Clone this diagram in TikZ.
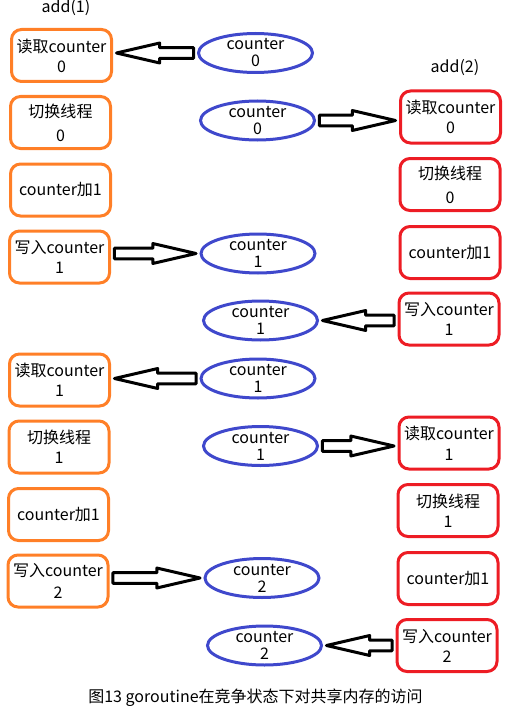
\documentclass[tikz,border=0pt]{standalone}
\usepackage{fontspec}
\setmainfont{Noto Sans CJK SC}
\usetikzlibrary{shapes.geometric,shapes.arrows,calc}
\definecolor{threadA}{RGB}{255,127,39}
\definecolor{threadB}{RGB}{237,28,36}
\definecolor{memblue}{RGB}{63,72,204}
\tikzset{
  blockarr/.style={single arrow, draw=black, line width=2.25pt, line join=round,
    single arrow tip angle=26, single arrow head extend=3.5pt,
    inner sep=2.85pt, outer sep=0pt, minimum width=0pt, anchor=tail}
}
% hollow block arrow from #1 (tail) to #2 (tip)
\newcommand\blockarrow[2]{%
  \path let \p1=(#1), \p2=(#2), \n1={veclen(\x2-\x1,\y2-\y1)}, \n2={atan2(\y2-\y1,\x2-\x1)} in
    node[blockarr, minimum height=\n1-5.2pt, rotate=\n2] at ($(\p1)!2.6pt!(\p2)$) {};}
\begin{document}
\begin{tikzpicture}[x=0.75pt, y=-0.75pt,
  stepA/.style={rectangle, rounded corners=7.5pt, draw=threadA, line width=2.25pt,
    minimum width=75pt, minimum height=39pt, align=center, font=\fontsize{12}{15}\selectfont},
  stepB/.style={stepA, draw=threadB},
  mem/.style={ellipse, draw=memblue, line width=2.25pt, minimum width=85.5pt, minimum height=29.25pt,
    inner xsep=0pt, inner ysep=-8pt, align=center, font=\fontsize{12}{12.75}\selectfont}]
\useasboundingbox (0,0) rectangle (511,710);
\node[font=\fontsize{12}{14}\selectfont] (add1) at (66,8) {add(1)};
\node[font=\fontsize{12}{14}\selectfont] (add2) at (455,68) {add(2)};
% add(1)
\node[stepA] (l1) at (61.5,55.5) {读取counter\\0};
\node[stepA] (l2) at (60.5,122.5) {切换线程\\[3pt]0};
\node[stepA] (l3) at (60.5,190) {counter加1};
\node[stepA] (l4) at (59.5,257) {写入counter\\1};
\node[stepA] (l5) at (59.5,380) {读取counter\\1};
\node[stepA] (l6) at (59,447) {切换线程\\1};
\node[stepA] (l7) at (58.5,514.5) {counter加1};
\node[stepA] (l8) at (58,581) {写入counter\\[2pt]2};
% add(2)
\node[stepB] (r1) at (450.5,117) {读取counter\\0};
\node[stepB] (r2) at (450,184.5) {切换线程\\[3pt]0};
\node[stepB] (r3) at (450,252.5) {counter加1};
\node[stepB] (r4) at (449,319) {写入counter\\1};
\node[stepB] (r5) at (449,443) {读取counter\\[1pt]1};
\node[stepB] (r6) at (448,510.5) {切换线程\\1};
\node[stepB] (r7) at (448,578.5) {counter加1};
\node[stepB] (r8) at (447,645.5) {写入counter\\2};
% shared counter
\node[mem] (c1) at (255.5,53) {counter\\0};
\node[mem] (c2) at (257.5,120.5) {counter\\0};
\node[mem] (c3) at (258,253.5) {counter\\1};
\node[mem] (c4) at (260.5,320.5) {counter\\1};
\node[mem] (c5) at (258,378.5) {counter\\1};
\node[mem] (c6) at (260.5,446) {counter\\1};
\node[mem] (c7) at (262,578) {counter\\2};
\node[mem] (c8) at (264.5,645.5) {counter\\2};
\blockarrow{c1.west}{l1.east |- c1.west}
\blockarrow{c2.east}{r1.west |- c2.east}
\blockarrow{l4.east |- c3.west}{c3.west}
\blockarrow{r4.west |- c4.east}{c4.east}
\blockarrow{c5.west}{l5.east |- c5.west}
\blockarrow{c6.east}{r5.west |- c6.east}
\blockarrow{l8.east |- c7.west}{c7.west}
\blockarrow{r8.west |- c8.east}{c8.east}
\node[font=\fontsize{12}{14}\selectfont] (cap) at (255.5,697.5) {图13 goroutine在竞争状态下对共享内存的访问};
\end{tikzpicture}
\end{document}
